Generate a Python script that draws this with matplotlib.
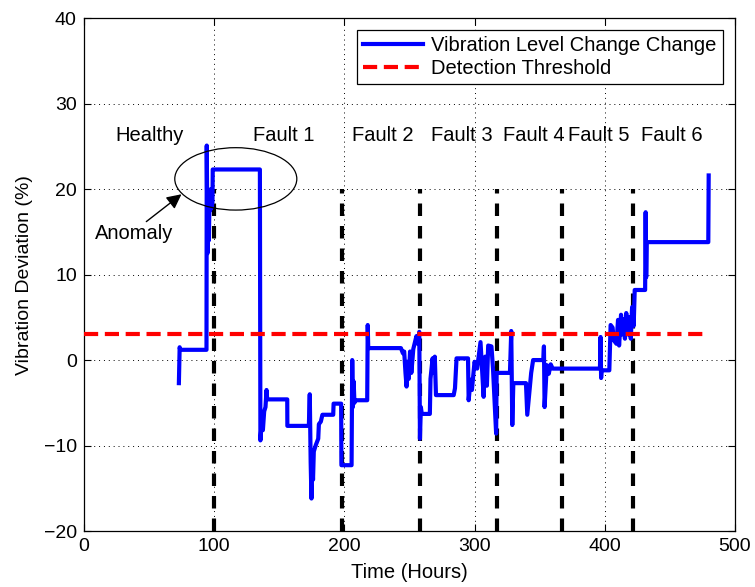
"""
Vibration deviation over time with detection threshold and fault markers.
"""

import matplotlib
matplotlib.use("Agg")
import matplotlib.pyplot as plt
from matplotlib.patches import Ellipse

# Blue trace (hours, % deviation)
TID = [
    73.0, 73.3, 73.6, 74.0, 94.2, 94.4, 95.0, 95.5, 96.0, 96.5, 97.0, 97.5, 98.0, 98.8, 99.0,
    135.2, 135.6, 136.5, 137.5, 138.5, 139.5, 140.3, 140.8, 156.2, 156.3, 172.8, 173.5, 174.2,
    174.8, 175.3, 176.0, 176.6, 178.0, 180.0, 180.5, 182.0, 183.2, 191.5, 191.8, 197.6, 197.8,
    205.6, 206.1, 206.6, 207.2, 207.8, 208.5, 217.6, 218.0, 218.4, 243.5, 245.0, 246.0, 247.0,
    247.8, 248.5, 249.5, 250.5, 251.5, 253.0, 255.4, 256.5, 257.6, 258.1, 258.8, 259.5, 265.7,
    266.2, 267.0, 267.8, 268.6, 269.5, 270.4, 284.0, 285.0, 286.2, 295.0, 295.5, 297.0, 298.0,
    300.0, 302.0, 304.6, 307.0, 308.2, 309.5, 310.5, 313.0, 314.2, 316.6, 317.0, 327.2, 328.2,
    329.0, 329.8, 339.5, 340.5, 342.0, 343.5, 345.0, 352.8, 353.3, 353.8, 355.5, 357.0, 358.5,
    360.0, 396.3, 396.8, 397.2, 397.6, 403.5, 404.5, 406.0, 407.0, 409.0, 410.2, 411.0, 412.5,
    413.5, 414.5, 415.5, 416.5, 418.0, 419.0, 420.0, 421.0, 422.2, 423.0, 431.0, 431.4, 431.8,
    432.3, 479.5, 479.8,
]
AVVIK = [
    -2.7, -0.5, 1.5, 1.2, 1.2, 25.1, 12.5, 16.0, 14.0, 18.5, 17.5, 20.0, 17.8, 18.5, 22.3,
    22.3, -9.4, -7.5, -8.2, -6.0, -5.5, -3.5, -4.6, -4.6, -7.7, -7.7, -4.0, -12.0,
    -16.2, -11.0, -14.0, -10.7, -10.0, -9.2, -7.5, -7.2, -6.4, -6.4, -5.1, -5.1, -12.3,
    -12.3, 0.0, -5.5, -2.5, -5.0, -4.7, -4.7, 4.1, 1.4, 1.4, 0.8, 1.0, -1.5,
    -3.1, -0.2, -2.2, 1.0, -1.5, 1.3, 2.8, 1.9, 3.3, -9.2, -5.5, -6.3, -6.3,
    -2.2, -1.0, 0.2, -1.5, 0.4, -4.1, -4.1, -3.3, 0.2, 0.2, -4.7, -2.3, -3.5,
    -0.2, -1.0, 2.1, -4.3, 0.4, -3.0, 1.7, 1.6, -1.0, -8.6, -1.5, -1.5, 3.4,
    -7.6, -2.7, -2.7, -6.4, -4.0, -1.5, 0.0, 0.0, 1.6, -5.5, -0.6, -1.6, -0.5,
    -1.0, -1.0, 2.7, -2.1, -1.2, -1.2, 4.1, 3.8, 2.3, 1.9, 4.7, 1.7, 5.3,
    3.0, 4.8, 2.5, 5.5, 3.0, 5.0, 2.5, 6.2, 4.0, 8.2, 8.2, 17.3, 9.7,
    13.8, 13.8, 21.6,
]

TERSKEL = 3.0
TERSKEL_SPENN = [0, 480]

FEIL_TIDER = [100, 198, 258, 317, 367, 422]
FEIL_SPENN = [-20, 20]

ETIKETTER = ["Healthy", "Fault 1", "Fault 2", "Fault 3", "Fault 4", "Fault 5", "Fault 6"]
ETIKETT_X = [50.5, 153.5, 229.5, 290.5, 345.5, 395.5, 451.5]
ETIKETT_Y = 26.3

FONT = ["Liberation Sans", "DejaVu Sans"]


def lag_figur():
    plt.rcParams["font.family"] = FONT
    fig = plt.figure(figsize=(7.55, 5.87), dpi=100)
    ax = fig.add_axes([0.111, 0.0954, 0.8625, 0.8736])

    ax.plot(TID, AVVIK, color="#0000ff", linewidth=3.0,
            label="Vibration Level Change Change", zorder=3)
    ax.plot(TERSKEL_SPENN, [TERSKEL, TERSKEL], color="#ff0000", linestyle="--",
            linewidth=3.0, dashes=(3.4, 1.6), label="Detection Threshold", zorder=4)

    for t in FEIL_TIDER:
        ax.plot([t, t], FEIL_SPENN, color="black", linestyle="--",
                linewidth=3.0, dashes=(3.0, 2.4), zorder=2)

    for tekst, x in zip(ETIKETTER, ETIKETT_X):
        ax.text(x, ETIKETT_Y, tekst, ha="center", va="center", fontsize=14.5)

    # Markering av anomalien
    ax.add_patch(Ellipse((116.7, 21.2), 93.7, 7.3, fill=False,
                         edgecolor="black", linewidth=0.9, zorder=5))
    ax.annotate("", xy=(75.0, 19.4), xytext=(48.0, 16.2),
                arrowprops=dict(arrowstyle="-|>", color="black", lw=1.0,
                                mutation_scale=22, shrinkA=0, shrinkB=0))
    ax.text(38.4, 14.8, "Anomaly", ha="center", va="center", fontsize=14.5)

    ax.set_xlim(0, 500)
    ax.set_ylim(-20, 40)
    ax.set_xticks(range(0, 501, 100))
    ax.set_yticks(range(-20, 41, 10))
    ax.tick_params(direction="in", top=True, right=True, length=5,
                   labelsize=14, width=0.8, pad=5)
    ax.grid(True, color="black", linestyle=(0, (1, 4)), linewidth=0.7)
    for s in ax.spines.values():
        s.set_linewidth(0.9)

    ax.set_xlabel("Time (Hours)", fontsize=14.5, labelpad=6)
    ax.set_ylabel("Vibration Deviation (%)", fontsize=14, labelpad=8)

    leg = ax.legend(loc="upper right", fontsize=14.5, fancybox=False,
                    framealpha=1, edgecolor="black", handlelength=3.0,
                    borderaxespad=0.6, labelspacing=0.2, borderpad=0.3,
                    handletextpad=0.4)
    leg.get_frame().set_linewidth(0.9)

    fig.savefig("out.png", dpi=100)
    plt.close(fig)


def main():
    lag_figur()


if __name__ == "__main__":
    main()
